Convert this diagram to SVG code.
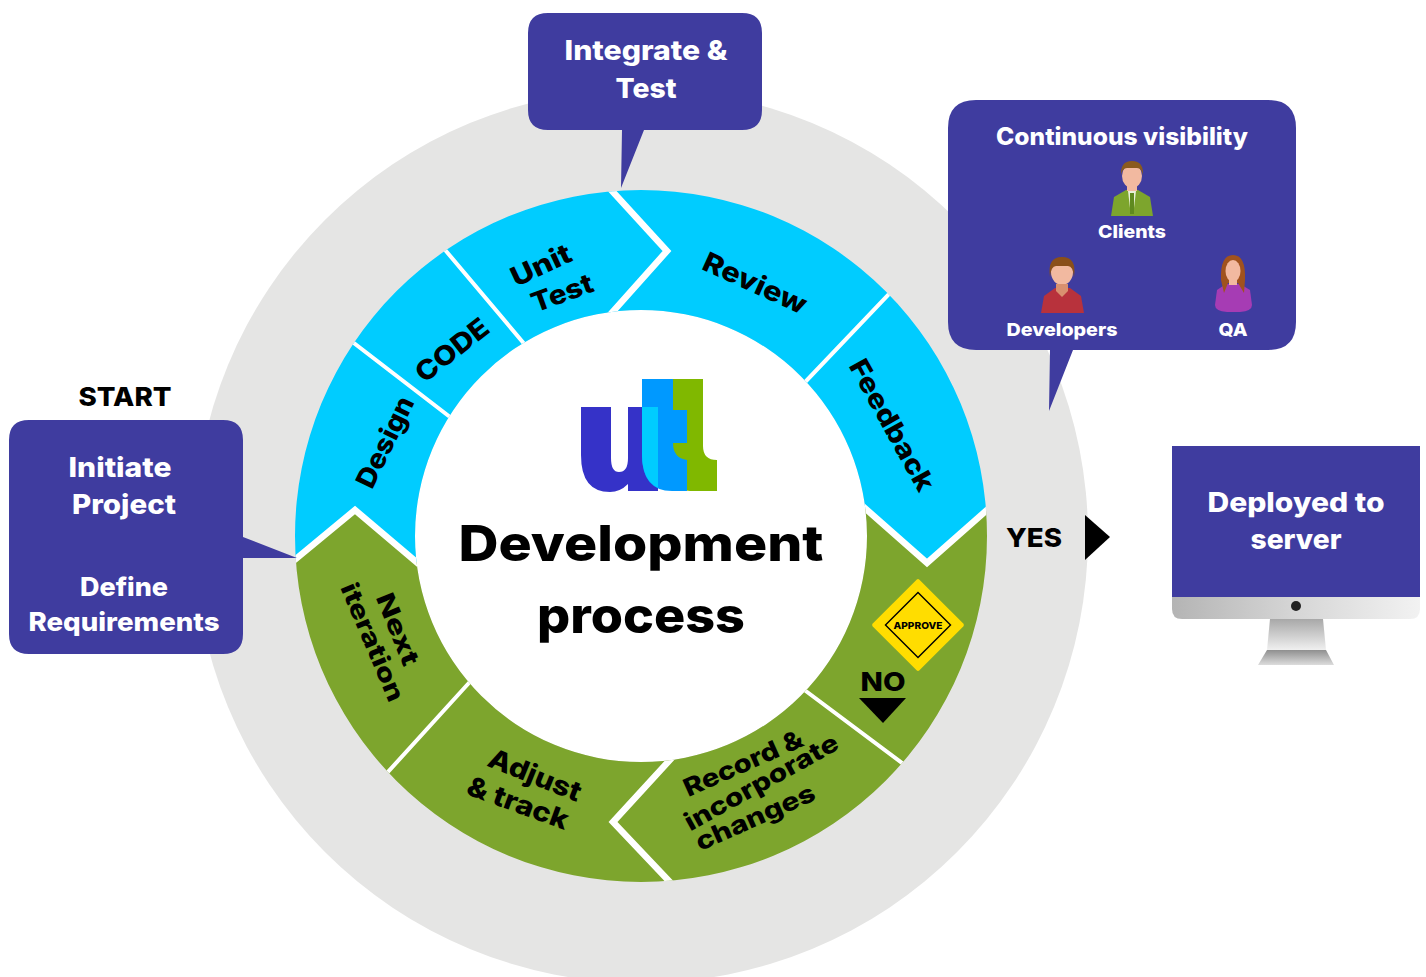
<svg xmlns="http://www.w3.org/2000/svg" width="1426" height="977" viewBox="0 0 1426 977">
<style>
text{font-family:Inter,"Liberation Sans",Arial,sans-serif;font-weight:800;text-anchor:middle;dominant-baseline:central}
.w{fill:#fff}
.k{fill:#000}
.box{fill:#3f3c9f}
.blue{fill:#00ccff}
.green{fill:#7da52d}
.div{fill:none;stroke:#fff;stroke-linecap:butt;stroke-linejoin:miter;stroke-miterlimit:10}
.thin{stroke-width:4}
.thick{stroke-width:6.5}
.r{font-size:27px}
.s{font-size:25px}
.skin{fill:#f2b9a0}
</style>
<defs>
<clipPath id="ring"><path clip-rule="evenodd" d="M295 536a346 346 0 1 0 692 0a346 346 0 1 0-692 0ZM415 536a226 226 0 1 1 452 0a226 226 0 1 1-452 0Z"/></clipPath>
<linearGradient id="chin" x1="0" x2="1" y1="0" y2="0"><stop offset="0" stop-color="#b4b4b4"/><stop offset=".5" stop-color="#d6d6d6"/><stop offset="1" stop-color="#f2f2f2"/></linearGradient>
<linearGradient id="stand" x1="0" x2="0" y1="0" y2="1"><stop offset="0" stop-color="#a8a8a8"/><stop offset="1" stop-color="#f0f0f0"/></linearGradient>
<linearGradient id="base" x1="0" x2="0" y1="0" y2="1"><stop offset="0" stop-color="#8f8f8f"/><stop offset="1" stop-color="#dcdcdc"/></linearGradient>
</defs>
<circle id="backdrop" cx="641" cy="536" r="447" fill="#e5e5e4"/>
<circle id="hub" cx="641" cy="536" r="226" fill="#fff"/>
<g clip-path="url(#ring)">
<polygon id="shape-design" class="blue" points="259,270 489,447 641,536 473,610 355,510 239,606"/>
<polygon id="shape-code" class="blue" points="371,162 553,378 641,536 489,447 259,270"/>
<polygon id="shape-unit" class="blue" points="371,162 559,133 667,251 559,372 553,378"/>
<polygon id="shape-review" class="blue" points="559,133 970,209 768,421 559,372 667,251"/>
<polygon id="shape-feedback" class="blue" points="970,209 1047,457 927,563 807,457 768,421"/>
<polygon id="shape-approve" class="green" points="1047,457 997,834 767,662 807,457 927,563"/>
<polygon id="shape-record" class="green" points="997,834 723,938 613,822 723,702 767,662"/>
<polygon id="shape-adjust" class="green" points="723,938 306,862 508,640 723,702 613,822"/>
<polygon id="shape-next" class="green" points="306,862 239,606 355,510 473,610 508,640"/>
</g>
<g id="connectors">
<g clip-path="url(#ring)">
<path class="div thin" d="M259 270L489 447M371 162L553 378M970 209L768 421M997 834L767 662M306 862L508 640"/>
<path class="div thick" d="M559 133L667 251L559 372M1047 457L927 563L807 457M723 702L613 822L723 938M239 606L355 510L473 610"/>
</g>
<polygon id="arrow-yes" points="1085,515 1110,537 1085,560"/>
<polygon id="arrow-no" points="859,698 906,698 883,723"/>
</g>
<g id="label-design"><text class="k r" transform="translate(385,442) rotate(-64)" textLength="98" lengthAdjust="spacingAndGlyphs">Design</text></g>
<g id="label-code"><text class="k r" transform="translate(452,350) rotate(-38)" textLength="85" lengthAdjust="spacingAndGlyphs">CODE</text></g>
<g id="label-unit"><text class="k r" transform="translate(541,265) rotate(-25)" textLength="64" lengthAdjust="spacingAndGlyphs">Unit</text><text class="k r" transform="translate(562,293) rotate(-20)" textLength="64" lengthAdjust="spacingAndGlyphs">Test</text></g>
<g id="label-review"><text class="k r" transform="translate(755,283) rotate(24.5)" textLength="111" lengthAdjust="spacingAndGlyphs">Review</text></g>
<g id="label-feedback"><text class="k r" transform="translate(892,425) rotate(61)" textLength="146" lengthAdjust="spacingAndGlyphs">Feedback</text></g>
<g id="label-record"><text class="k s" transform="translate(743,763) rotate(-24)" textLength="128" lengthAdjust="spacingAndGlyphs">Record &amp;</text><text class="k s" transform="translate(761,782) rotate(-29)" textLength="172" lengthAdjust="spacingAndGlyphs">incorporate</text><text class="k s" transform="translate(755,817) rotate(-24)" textLength="128" lengthAdjust="spacingAndGlyphs">changes</text></g>
<g id="label-adjust"><text class="k r" transform="translate(535,775) rotate(22)" textLength="98" lengthAdjust="spacingAndGlyphs">Adjust</text><text class="k r" transform="translate(518,803) rotate(20)" textLength="106" lengthAdjust="spacingAndGlyphs">&amp; track</text></g>
<g id="label-next"><text class="k s" transform="translate(398,629) rotate(68)" textLength="76" lengthAdjust="spacingAndGlyphs">Next</text><text class="k s" transform="translate(373,642) rotate(67)" textLength="126" lengthAdjust="spacingAndGlyphs">iteration</text></g>
<g id="approve">
<rect x="-33" y="-33" width="66" height="66" rx="2" transform="translate(918,625) rotate(45)" fill="#ffdd00"/>
<rect x="-23" y="-23" width="46" height="46" transform="translate(918,625) rotate(45)" fill="none" stroke="#000" stroke-width="1.4"/>
<text x="918" y="625" font-size="9.5" class="k" textLength="49" lengthAdjust="spacingAndGlyphs">APPROVE</text>
</g>
<g id="label-no"><text class="k" x="883" y="681" font-size="26" textLength="45" lengthAdjust="spacingAndGlyphs">NO</text></g>
<g id="label-yes"><text class="k" x="1034" y="537" font-size="26" textLength="56" lengthAdjust="spacingAndGlyphs">YES</text></g>
<g id="center">
<g id="logo">
<path fill="#80b800" d="M673 379H703V446Q703 460 717 460V491H690Q673 491 673 460Z"/>
<path fill="#3532c8" d="M581 407H611V458Q611 472 619 472Q628 472 628 458V407H658V491H628V484Q620 492 610 492Q581 492 581 455Z"/>
<path fill="#0099ff" d="M642 379H673V410H687V443H673Q673 458 687 460V491H672Q642 491 642 455Z"/>
<path fill="#00ccff" d="M642 407H658V488Q642 480 642 455Z"/>
</g>
<text class="k" x="641" y="543" font-size="50" textLength="365" lengthAdjust="spacingAndGlyphs">Development</text>
<text class="k" x="641" y="615" font-size="50" textLength="208" lengthAdjust="spacingAndGlyphs">process</text>
</g>
<g id="integrate">
<path class="box" d="M548 13H742Q762 13 762 33V110Q762 130 742 130H644L621 188L622 130H548Q528 130 528 110V33Q528 13 548 13Z"/>
<text class="w" x="646" y="50" font-size="27" textLength="163" lengthAdjust="spacingAndGlyphs">Integrate &amp;</text>
<text class="w" x="646" y="88" font-size="27" textLength="61" lengthAdjust="spacingAndGlyphs">Test</text>
</g>
<g id="start">
<text class="k" x="125" y="396" font-size="26" textLength="93" lengthAdjust="spacingAndGlyphs">START</text>
<path class="box" d="M29 420H223Q243 420 243 440V537L297 558H243V634Q243 654 223 654H29Q9 654 9 634V440Q9 420 29 420Z"/>
<text class="w" x="120" y="467" font-size="27" textLength="103" lengthAdjust="spacingAndGlyphs">Initiate</text>
<text class="w" x="124" y="504" font-size="27" textLength="104" lengthAdjust="spacingAndGlyphs">Project</text>
<text class="w" x="124" y="586" font-size="26" textLength="88" lengthAdjust="spacingAndGlyphs">Define</text>
<text class="w" x="124" y="621" font-size="26" textLength="191" lengthAdjust="spacingAndGlyphs">Requirements</text>
</g>
<g id="visibility">
<path class="box" d="M976 100H1268Q1296 100 1296 128V322Q1296 350 1268 350H1073L1049 411L1050 350H976Q948 350 948 322V128Q948 100 976 100Z"/>
<text class="w" x="1122" y="136" font-size="24" textLength="252" lengthAdjust="spacingAndGlyphs">Continuous visibility</text>
<g id="person-client">
<path fill="#7da52d" d="M1111 216L1114 197L1126 190H1138L1150 197L1153 216Z"/>
<path fill="#e8f0d8" d="M1128 191H1136L1134 208H1130Z"/>
<path fill="#5f8a1f" d="M1130 193H1134L1134 214H1130Z"/>
<ellipse class="skin" cx="1132" cy="176" rx="10" ry="12"/>
<rect class="skin" x="1127" y="184" width="10" height="7"/>
<path fill="#8a5a1e" d="M1121 176Q1120 161 1132 161Q1144 161 1143 176Q1142 168 1137 168H1127Q1122 168 1121 176Z"/>
</g>
<text class="w" x="1132" y="231" font-size="18" textLength="68" lengthAdjust="spacingAndGlyphs">Clients</text>
<g id="person-dev">
<path fill="#b8323c" d="M1041 313L1044 296L1055 288H1070L1081 296L1084 313Z"/>
<ellipse class="skin" cx="1062" cy="272" rx="11" ry="13"/>
<path fill="#d9906f" d="M1056 284H1068V291L1062 297L1056 291Z"/>
<path fill="#8a4f1a" d="M1050 277Q1047 257 1062 257Q1077 257 1074 277Q1073 266 1068 266H1056Q1051 266 1050 277Z"/>
</g>
<text class="w" x="1062" y="329" font-size="18" textLength="111" lengthAdjust="spacingAndGlyphs">Developers</text>
<g id="person-qa">
<path fill="#a63cb4" d="M1215 305L1217 290L1226 284H1240L1250 290L1252 305Q1252 311 1240 312H1227Q1215 311 1215 305Z"/>
<path fill="#a0521e" d="M1221 280Q1220 255 1233 255Q1246 255 1245 280L1244 293L1238 283H1228L1224 293Z"/>
<ellipse class="skin" cx="1233" cy="271" rx="7.5" ry="11"/>
<rect class="skin" x="1229" y="278" width="8" height="7"/>
</g>
<text class="w" x="1233" y="329" font-size="18" textLength="29" lengthAdjust="spacingAndGlyphs">QA</text>
</g>
<g id="deployed">
<path fill="url(#stand)" d="M1270 619H1323L1326 650H1267Z"/>
<path fill="url(#base)" d="M1267 650H1326L1334 665H1258Z"/>
<path fill="url(#chin)" d="M1172 597H1420V609Q1420 619 1410 619H1182Q1172 619 1172 609Z"/>
<circle cx="1296" cy="606" r="5" fill="#222"/>
<rect class="box" x="1172" y="446" width="248" height="151"/>
<text class="w" x="1296" y="502" font-size="27" textLength="177" lengthAdjust="spacingAndGlyphs">Deployed to</text>
<text class="w" x="1296" y="539" font-size="27" textLength="91" lengthAdjust="spacingAndGlyphs">server</text>
</g>
</svg>
